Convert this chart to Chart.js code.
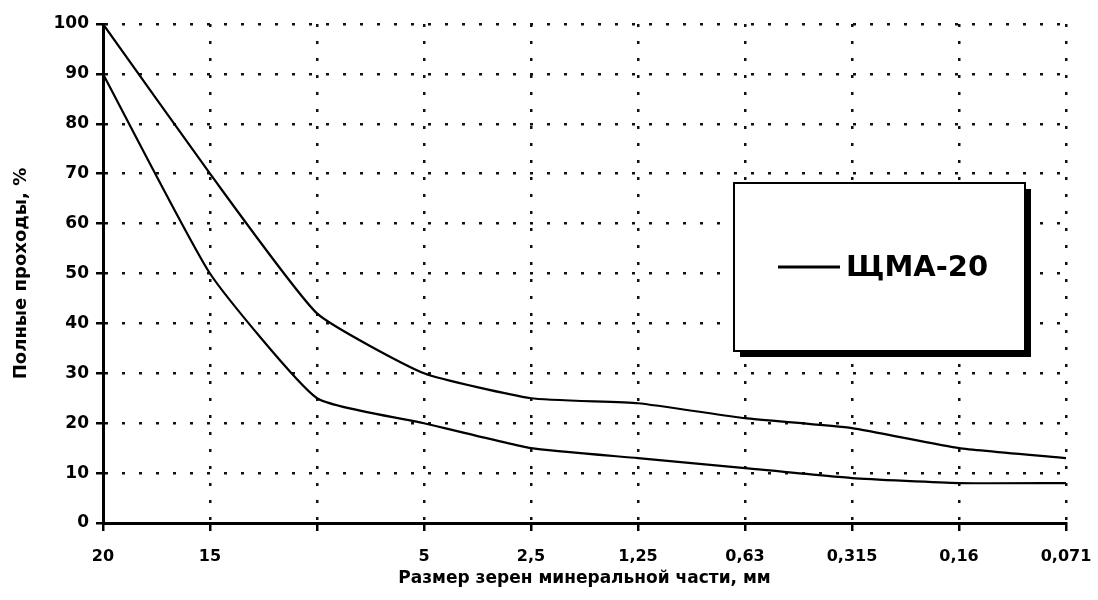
<!DOCTYPE html>
<html lang="ru">
<head>
<meta charset="utf-8">
<title>ЩМА-20</title>
<script src="https://cdn.jsdelivr.net/npm/chart.js@4/dist/chart.umd.min.js"></script>
<style>
    html, body { margin: 0; padding: 0; background: #fff; }
    #wrap { width: 1098px; height: 600px; }
</style>
</head>
<body>
<div id="wrap"><canvas id="grainChart" width="1098" height="600"></canvas></div>
<script>
'use strict';

// Размер зерен (подпись у третьей точки в оригинале отсутствует)
const grainSizes = ['20', '15', '', '5', '2,5', '1,25', '0,63', '0,315', '0,16', '0,071'];

// Границы зернового состава ЩМА-20, полные проходы, %
const upperLimit = [100, 70, 42, 30, 25, 24, 21, 19, 15, 13];
const lowerLimit = [90, 50, 25, 20, 15, 13, 11, 9, 8, 8];

const legendLabel = 'ЩМА-20';

const FONT = '"DejaVu Sans", "Liberation Sans", Arial, sans-serif';

/* Рамка легенды внутри области графика, с тенью справа и снизу */
const legendBoxPlugin = {
    id: 'legendBox',
    afterDatasetsDraw(chart) {
        const ctx = chart.ctx;
        const x = 734, y = 183, w = 291, h = 168, shadow = 6;
        ctx.save();
        ctx.fillStyle = '#000';
        ctx.fillRect(x + shadow, y + shadow, w, h);
        ctx.fillStyle = '#fff';
        ctx.fillRect(x, y, w, h);
        ctx.lineWidth = 2;
        ctx.strokeStyle = '#000';
        ctx.strokeRect(x, y, w, h);

        // образец линии
        ctx.lineWidth = 3;
        ctx.beginPath();
        ctx.moveTo(778, 267);
        ctx.lineTo(840, 267);
        ctx.stroke();

        ctx.fillStyle = '#000';
        ctx.font = 'bold 29px ' + FONT;
        ctx.textBaseline = 'middle';
        ctx.textAlign = 'left';
        ctx.fillText(legendLabel, 846, 268);
        ctx.restore();
    },
};

var ctx = document.getElementById('grainChart').getContext('2d');
var grainChart = new Chart(ctx, {
    type: 'line',
    data: {
        labels: grainSizes,
        datasets: [
            {
                label: legendLabel + ' (верхняя граница)',
                data: upperLimit,
                borderColor: '#000',
                borderWidth: 2.2,
                pointRadius: 0,
                fill: false,
                tension: 0.15,
            },
            {
                label: legendLabel + ' (нижняя граница)',
                data: lowerLimit,
                borderColor: '#000',
                borderWidth: 2.2,
                pointRadius: 0,
                fill: false,
                tension: 0.15,
            },
        ],
    },
    options: {
        responsive: false,
        animation: false,
        layout: {
            padding: { left: 0, top: 24, right: 32, bottom: 0 },
        },
        plugins: {
            legend: { display: false },
            tooltip: { enabled: false },
        },
        scales: {
            x: {
                afterFit: function (scale) {
                    scale.height = 77;
                    scale.paddingLeft = 0;
                    scale.paddingRight = 0;
                },
                grid: {
                    color: '#111',
                    lineWidth: 2.5,
                    tickLength: 8,
                    tickWidth: 2.5,
                    tickColor: '#000',
                },
                border: {
                    display: true,
                    color: '#000',
                    width: 3,
                    dash: [3, 14],
                },
                ticks: {
                    color: '#000',
                    padding: 16,
                    maxRotation: 0,
                    autoSkip: false,
                    font: { family: FONT, size: 16, weight: 'bold' },
                },
                title: {
                    display: true,
                    text: 'Размер зерен минеральной части, мм',
                    color: '#000',
                    padding: { top: 0, bottom: 11 },
                    font: { family: FONT, size: 17, weight: 'bold' },
                },
            },
            y: {
                min: 0,
                max: 100,
                afterFit: function (scale) {
                    scale.width = 103;
                },
                grid: {
                    color: '#111',
                    lineWidth: 2.5,
                    tickLength: 7,
                    tickWidth: 2.5,
                    tickColor: '#000',
                },
                border: {
                    display: true,
                    color: '#000',
                    width: 3,
                    dash: [3, 14],
                },
                ticks: {
                    stepSize: 10,
                    color: '#000',
                    padding: 7,
                    font: { family: FONT, size: 17, weight: 'bold' },
                },
                title: {
                    display: true,
                    text: 'Полные проходы, %',
                    color: '#000',
                    padding: { top: 11, bottom: 0 },
                    font: { family: FONT, size: 18, weight: 'bold' },
                },
            },
        },
    },
    plugins: [legendBoxPlugin],
});
</script>
</body>
</html>
